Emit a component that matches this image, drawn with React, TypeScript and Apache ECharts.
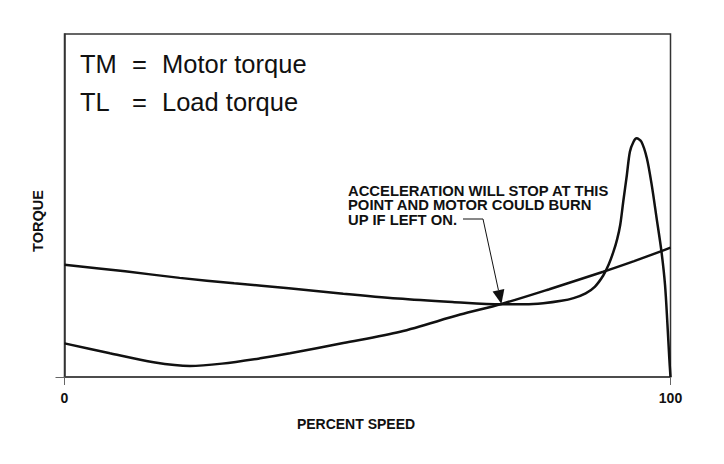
import React, { useEffect, useRef } from "react";
import * as echarts from "echarts";

// Motor torque curve (TM): percent speed vs torque (0-100 scale)
const motorSpeed = [0, 10, 19, 28, 37, 46, 55, 64, 72, 76, 79, 82, 84, 86, 87.5, 88.9, 89.8, 90.6, 91.2, 91.7, 92.2, 92.8, 93.3, 93.9, 94.4, 95.2, 96.1, 96.9, 97.7, 98.5, 99.1, 99.5, 99.8, 100];
const motorTorque = [32.7, 30.8, 28.9, 27.3, 25.9, 24.3, 22.9, 21.9, 21.2, 21.2, 21.5, 22.2, 23.0, 24.4, 26.3, 29.6, 32.8, 36.6, 40.2, 44.3, 51.1, 58.9, 65.7, 68.6, 69.6, 68.6, 63.8, 56.0, 46.4, 36.7, 26.8, 15.2, 5.5, 0];

// Load torque curve (TL)
const loadSpeed = [0, 7.5, 14.7, 20.7, 26, 32.3, 37.2, 46, 55.4, 65.3, 72.1, 80, 88.9, 94, 98.5, 100];
const loadTorque = [9.8, 6.9, 4.3, 3.2, 3.9, 5.45, 6.9, 9.9, 13.2, 18.2, 21.3, 25.6, 30.7, 33.8, 36.7, 37.7];

const xTickValues = [0, 100];
const legendSymbols = ["TM", "TL"];
const legendNames = ["Motor torque", "Load torque"];
const noteLines = ["ACCELERATION WILL STOP AT THIS", "POINT AND MOTOR COULD BURN", "UP IF LEFT ON."];
const stallPoint = [72.1, 21.3];
const xName = "PERCENT SPEED";
const yName = "TORQUE";

const FONT = "'Liberation Sans', Arial, Helvetica, sans-serif";
const INK = "#111";

export default function App() {
  const ref = useRef<HTMLDivElement>(null);
  useEffect(() => {
    document.body.style.margin = "0";
    const chart = echarts.init(ref.current!, null, { renderer: "svg" });
    chart.setOption({
      animation: false,
      backgroundColor: "#fff",
      grid: {
        left: 64.5,
        right: 53.5,
        top: 34,
        bottom: 87,
        show: true,
        borderColor: "#333",
        borderWidth: 1.5,
      },
      xAxis: {
        type: "value",
        min: 0,
        max: 100,
        interval: 100,
        axisLine: { lineStyle: { color: "#444", width: 1.5 } },
        axisTick: { show: true, length: 8, lineStyle: { color: "#666", width: 1 } },
        axisLabel: {
          fontSize: 14,
          fontWeight: "bold",
          color: INK,
          margin: 14,
          fontFamily: FONT,
          customValues: xTickValues,
        },
        splitLine: { show: false },
      },
      yAxis: {
        type: "value",
        min: 0,
        max: 100,
        interval: 100,
        axisLine: { show: true, lineStyle: { color: "#333", width: 1.5 } },
        axisTick: { show: true, length: 9, customValues: [0], lineStyle: { color: "#666", width: 1 } },
        axisLabel: { show: false },
        splitLine: { show: false },
      },
      series: [
        {
          name: "Motor torque",
          type: "line",
          data: motorSpeed.map((x, i) => [x, motorTorque[i]]),
          symbol: "none",
          smooth: 0.3,
          lineStyle: { color: INK, width: 2.5 },
        },
        {
          name: "Load torque",
          type: "line",
          data: loadSpeed.map((x, i) => [x, loadTorque[i]]),
          symbol: "none",
          smooth: 0.3,
          lineStyle: { color: INK, width: 2.5 },
        },
      ],
    });

    const tip = chart.convertToPixel({ gridIndex: 0 }, stallPoint) as number[];
    const elbow = [483, 219];
    const dx = tip[0] - elbow[0];
    const dy = tip[1] - elbow[1];
    const len = Math.sqrt(dx * dx + dy * dy);
    const ux = dx / len;
    const uy = dy / len;
    const headLen = 14;
    const headHalf = 6;
    const base = [tip[0] - ux * headLen, tip[1] - uy * headLen];

    const graphic: any[] = [];
    legendSymbols.forEach((s, i) => {
      const y = i === 0 ? 63.5 : 102;
      graphic.push(
        { type: "text", x: 80, y, style: { text: s, fontSize: 25.5, fontFamily: FONT, fill: INK, verticalAlign: "middle" } },
        { type: "text", x: 132, y, style: { text: "=", fontSize: 25.5, fontFamily: FONT, fill: INK, verticalAlign: "middle" } },
        { type: "text", x: 162, y, style: { text: legendNames[i], fontSize: 25.5, fontFamily: FONT, fill: INK, verticalAlign: "middle" } }
      );
    });
    const noteY = [190.5, 205.3, 220];
    noteLines.forEach((t, i) => {
      graphic.push({
        type: "text",
        x: 348,
        y: noteY[i],
        style: { text: t, fontSize: 14.8, fontWeight: "bold", fontFamily: FONT, fill: INK, verticalAlign: "middle" },
      });
    });
    graphic.push(
      {
        type: "polyline",
        shape: { points: [[463, 219], elbow, base] },
        style: { stroke: INK, lineWidth: 1, fill: "none" },
      },
      {
        type: "polygon",
        shape: {
          points: [
            tip,
            [base[0] - uy * headHalf, base[1] + ux * headHalf],
            [base[0] + uy * headHalf, base[1] - ux * headHalf],
          ],
        },
        style: { fill: INK },
      },
      {
        type: "text",
        x: 356,
        y: 424,
        style: { text: xName, fontSize: 14, fontWeight: "bold", fontFamily: FONT, fill: INK, align: "center", verticalAlign: "middle" },
      },
      {
        type: "text",
        x: 38,
        y: 221,
        rotation: Math.PI / 2,
        style: { text: yName, fontSize: 14.5, fontWeight: "bold", fontFamily: FONT, fill: INK, align: "center", verticalAlign: "middle" },
      }
    );
    chart.setOption({ graphic });
    return () => chart.dispose();
  }, []);
  return <div ref={ref} style={{ width: 724, height: 464 }} />;
}
